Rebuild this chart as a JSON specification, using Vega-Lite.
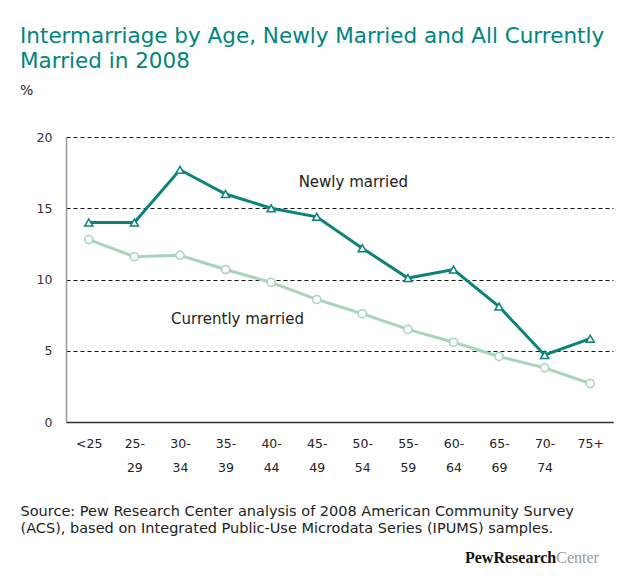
{
  "$schema": "https://vega.github.io/schema/vega-lite/v6.json",
  "width": 547,
  "height": 285,
  "autosize": {"type": "none"},
  "padding": {"left": 66, "top": 137, "right": 17, "bottom": 158},
  "background": "white",
  "config": {
    "view": {"stroke": null},
    "font": "DejaVu Sans"
  },
  "title": {
    "text": ["Intermarriage by Age, Newly Married and All Currently", "Married in 2008"],
    "subtitle": "%",
    "anchor": "start",
    "frame": "bounds",
    "font": "DejaVu Sans",
    "fontSize": 21.5,
    "fontWeight": "normal",
    "color": "#00857d",
    "lineHeight": 25,
    "subtitleFont": "DejaVu Sans",
    "subtitleFontSize": 14,
    "subtitleColor": "#222222",
    "subtitlePadding": 12,
    "offset": 33
  },
  "data": {
    "values": [
      {"age": "<25", "series": "Newly married", "pct": 14.0},
      {"age": "25-29", "series": "Newly married", "pct": 14.0},
      {"age": "30-34", "series": "Newly married", "pct": 17.7},
      {"age": "35-39", "series": "Newly married", "pct": 16.0},
      {"age": "40-44", "series": "Newly married", "pct": 15.0},
      {"age": "45-49", "series": "Newly married", "pct": 14.4},
      {"age": "50-54", "series": "Newly married", "pct": 12.2},
      {"age": "55-59", "series": "Newly married", "pct": 10.1},
      {"age": "60-64", "series": "Newly married", "pct": 10.7},
      {"age": "65-69", "series": "Newly married", "pct": 8.1},
      {"age": "70-74", "series": "Newly married", "pct": 4.7},
      {"age": "75+", "series": "Newly married", "pct": 5.85},
      {"age": "<25", "series": "Currently married", "pct": 12.8},
      {"age": "25-29", "series": "Currently married", "pct": 11.6},
      {"age": "30-34", "series": "Currently married", "pct": 11.7},
      {"age": "35-39", "series": "Currently married", "pct": 10.7},
      {"age": "40-44", "series": "Currently married", "pct": 9.8},
      {"age": "45-49", "series": "Currently married", "pct": 8.6},
      {"age": "50-54", "series": "Currently married", "pct": 7.6},
      {"age": "55-59", "series": "Currently married", "pct": 6.5},
      {"age": "60-64", "series": "Currently married", "pct": 5.6},
      {"age": "65-69", "series": "Currently married", "pct": 4.6},
      {"age": "70-74", "series": "Currently married", "pct": 3.8},
      {"age": "75+", "series": "Currently married", "pct": 2.7}
    ]
  },
  "encoding": {
    "y": {
      "field": "pct",
      "type": "quantitative",
      "scale": {"domain": [0, 20]},
      "axis": {
        "title": null,
        "values": [0, 5, 10, 15, 20],
        "labelFont": "DejaVu Sans",
        "labelFontSize": 12.5,
        "labelColor": "#333333",
        "labelPadding": 14,
        "ticks": false,
        "domainColor": "#999999",
        "domainWidth": 1.5,
        "grid": true,
        "gridColor": "#111111",
        "gridDash": [4, 3],
        "gridWidth": 1
      }
    }
  },
  "resolve": {"axis": {"x": "independent"}},
  "layer": [
    {
      "mark": {"type": "line", "strokeWidth": 3},
      "encoding": {
        "x": {
          "field": "age",
          "type": "ordinal",
          "sort": ["<25", "25-29", "30-34", "35-39", "40-44", "45-49", "50-54", "55-59", "60-64", "65-69", "70-74", "75+"],
          "scale": {"domain": ["<25", "25-29", "30-34", "35-39", "40-44", "45-49", "50-54", "55-59", "60-64", "65-69", "70-74", "75+"], "padding": 0.5},
          "axis": {
            "orient": "bottom",
            "title": "Source: Pew Research Center analysis of 2008 American Community Survey",
            "titleFont": "DejaVu Sans",
            "titleFontSize": 14.5,
            "titleFontWeight": "normal",
            "titleColor": "#222222",
            "titleAnchor": "start",
            "titleAlign": "left",
            "titleBaseline": "alphabetic",
            "titleX": -46,
            "titleY": 93,
            "labelAngle": 0,
            "labelFont": "DejaVu Sans",
            "labelFontSize": 12.5,
            "labelColor": "#222222",
            "labelPadding": 15,
            "labelExpr": "datum.value == '<25' || datum.value == '75+' ? datum.value : slice(datum.value, 0, 3)",
            "ticks": false,
            "domainColor": "#333333",
            "domainWidth": 1.5,
            "grid": false
          }
        },
        "color": {
          "field": "series",
          "type": "nominal",
          "scale": {"domain": ["Newly married", "Currently married"], "range": ["#0b8379", "#a8d4bb"]},
          "legend": null
        }
      }
    },
    {
      "mark": {"type": "point", "filled": true, "fill": "white", "strokeWidth": 1.5, "opacity": 1, "size": 65},
      "encoding": {
        "x": {
          "field": "age",
          "type": "ordinal",
          "sort": ["<25", "25-29", "30-34", "35-39", "40-44", "45-49", "50-54", "55-59", "60-64", "65-69", "70-74", "75+"],
          "scale": {"domain": ["<25", "25-29", "30-34", "35-39", "40-44", "45-49", "50-54", "55-59", "60-64", "65-69", "70-74", "75+"], "padding": 0.5},
          "axis": {
            "orient": "bottom",
            "title": "(ACS), based on Integrated Public-Use Microdata Series (IPUMS) samples.",
            "titleFont": "DejaVu Sans",
            "titleFontSize": 14.5,
            "titleFontWeight": "normal",
            "titleColor": "#222222",
            "titleAnchor": "start",
            "titleAlign": "left",
            "titleBaseline": "alphabetic",
            "titleX": -46,
            "titleY": 110,
            "labelAngle": 0,
            "labelFont": "DejaVu Sans",
            "labelFontSize": 12.5,
            "labelColor": "#222222",
            "labelPadding": 39,
            "labelExpr": "datum.value == '<25' || datum.value == '75+' ? '' : slice(datum.value, 3)",
            "ticks": false,
            "domain": false,
            "grid": false
          }
        },
        "stroke": {
          "field": "series",
          "type": "nominal",
          "scale": {"domain": ["Newly married", "Currently married"], "range": ["#0b8379", "#a8d4bb"]},
          "legend": null
        },
        "shape": {
          "field": "series",
          "type": "nominal",
          "scale": {"domain": ["Newly married", "Currently married"], "range": ["triangle-up", "circle"]},
          "legend": null
        }
      }
    },
    {
      "transform": [{"filter": "datum.age == '<25' && datum.series == 'Newly married'"}],
      "mark": {"type": "text", "text": "Newly married", "fontSize": 15, "color": "#222222", "baseline": "middle", "dx": -9},
      "encoding": {"x": {"datum": "50-54", "axis": null}, "y": {"datum": 16.84}}
    },
    {
      "transform": [{"filter": "datum.age == '<25' && datum.series == 'Newly married'"}],
      "mark": {"type": "text", "text": "Currently married", "fontSize": 15, "color": "#222222", "baseline": "middle", "dx": 12},
      "encoding": {"x": {"datum": "35-39", "axis": null}, "y": {"datum": 7.23}}
    },
    {
      "transform": [{"filter": "datum.age == '<25' && datum.series == 'Newly married'"}],
      "mark": {"type": "text", "text": "PewResearch", "font": "Liberation Serif", "fontWeight": "bold", "fontSize": 16, "color": "#111111", "align": "right", "baseline": "middle", "dx": -34},
      "encoding": {"x": {"datum": "75+", "axis": null}, "y": {"datum": -9.54}}
    },
    {
      "transform": [{"filter": "datum.age == '<25' && datum.series == 'Newly married'"}],
      "mark": {"type": "text", "text": "Center", "font": "Liberation Serif", "fontSize": 16, "color": "#999999", "align": "left", "baseline": "middle", "dx": -34},
      "encoding": {"x": {"datum": "75+", "axis": null}, "y": {"datum": -9.54}}
    }
  ]
}
